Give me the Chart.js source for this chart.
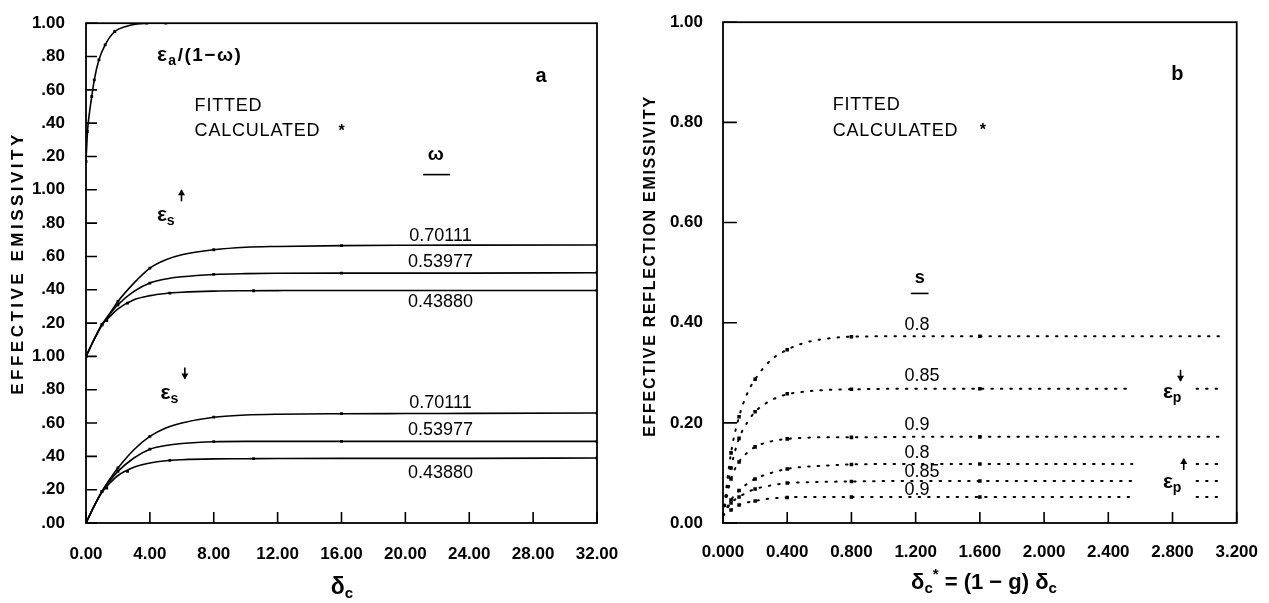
<!DOCTYPE html>
<html>
<head>
<meta charset="utf-8">
<script src="https://cdn.jsdelivr.net/npm/chart.js@4/dist/chart.umd.min.js"></script>
<style>
  body { margin: 0; background: #fff; }
  #wrap { position: relative; width: 1269px; height: 603px; }
  canvas { position: absolute; top: 0; }
  #chartA { left: 0; }
  #chartB { left: 634px; }
</style>
</head>
<body>
<div id="wrap">
  <canvas id="chartA" width="634" height="603"></canvas>
  <canvas id="chartB" width="635" height="603"></canvas>
</div>
<script>
const FONT = '"Liberation Sans", Arial, Helvetica, sans-serif';

// ---------- panel a ----------
const xTicksA = ['0.00', '4.00', '8.00', '12.00', '16.00', '20.00', '24.00', '28.00', '32.00'];
const yTicksA = ['.00', '.20', '.40', '.60', '.80', '1.00', '.20', '.40', '.60', '.80', '1.00', '.20', '.40', '.60', '.80', '1.00'];
const omegaLabels = ['0.70111', '0.53977', '0.43880'];

// eps_a / (1 - omega), top band
const absDelta = [0, 0.1, 0.2, 0.36, 0.52, 0.81, 1.2, 1.8, 2.5, 3.2, 4, 6, 8, 16, 32];
const absFit = [0.17, 0.36, 0.45, 0.56, 0.66, 0.78, 0.87, 0.95, 0.98, 0.995, 1, 1, 1, 1, 1];
const absCalcDelta = [0, 0.08, 0.36, 0.52, 0.81, 1.2, 1.8, 3.8, 5.0];
const absCalc = [0.17, 0.35, 0.56, 0.66, 0.78, 0.87, 0.95, 1.0, 1.0];

// eps_s up (middle band) and down (bottom band), one list per omega
const deltaA = [0, 0.5, 1, 1.5, 2, 3, 4, 5, 6, 8, 10, 12, 16, 20, 24, 32];
const upFit = [
  [0, 0.10, 0.19, 0.26, 0.33, 0.44, 0.53, 0.58, 0.61, 0.64, 0.655, 0.66, 0.665, 0.667, 0.668, 0.669],
  [0, 0.10, 0.19, 0.255, 0.31, 0.39, 0.44, 0.465, 0.478, 0.492, 0.497, 0.499, 0.50, 0.50, 0.50, 0.502],
  [0, 0.10, 0.19, 0.24, 0.285, 0.34, 0.365, 0.378, 0.385, 0.392, 0.394, 0.395, 0.396, 0.396, 0.396, 0.396]
];
const downFit = [
  [0, 0.10, 0.19, 0.265, 0.33, 0.44, 0.52, 0.57, 0.60, 0.635, 0.648, 0.653, 0.656, 0.657, 0.658, 0.66],
  [0, 0.10, 0.19, 0.255, 0.31, 0.39, 0.443, 0.465, 0.477, 0.488, 0.49, 0.49, 0.49, 0.49, 0.49, 0.49],
  [0, 0.10, 0.185, 0.24, 0.285, 0.335, 0.36, 0.374, 0.38, 0.385, 0.386, 0.387, 0.388, 0.388, 0.388, 0.39]
];
const calcDeltaA = [
  [0, 1, 2, 4, 8, 16, 32],
  [0, 1, 2, 4, 8, 16, 32],
  [0, 1.3, 2.6, 5.25, 10.5, 32]
];
const upCalc = [
  [0, 0.19, 0.33, 0.53, 0.64, 0.665, 0.669],
  [0, 0.19, 0.31, 0.44, 0.492, 0.50, 0.502],
  [0, 0.215, 0.32, 0.38, 0.394, 0.396]
];
const downCalc = [
  [0, 0.19, 0.33, 0.52, 0.635, 0.656, 0.66],
  [0, 0.19, 0.31, 0.443, 0.488, 0.49, 0.49],
  [0, 0.21, 0.31, 0.376, 0.386, 0.39]
];

// ---------- panel b ----------
const xTicksB = ['0.000', '0.400', '0.800', '1.200', '1.600', '2.000', '2.400', '2.800', '3.200'];
const yTicksB = ['0.00', '0.20', '0.40', '0.60', '0.80', '1.00'];
const sLabels = ['0.8', '0.85', '0.9'];

const deltaB = [0, 0.05, 0.1, 0.15, 0.2, 0.3, 0.4, 0.5, 0.6, 0.8, 1.2, 1.6, 2.0, 2.55, 2.75, 2.95, 3.1];
const pDownFit = [
  [0.015, 0.14, 0.212, 0.258, 0.287, 0.326, 0.346, 0.359, 0.366, 0.372, 0.373, 0.373, 0.373, 0.373, 0.373, 0.373, 0.373],
  [0.015, 0.11, 0.169, 0.2, 0.222, 0.245, 0.257, 0.262, 0.265, 0.267, 0.268, 0.268, 0.268, 0.268, null, 0.268, 0.268],
  [0.015, 0.088, 0.122, 0.14, 0.152, 0.163, 0.168, 0.17, 0.171, 0.171, 0.172, 0.172, 0.172, 0.172, 0.172, 0.172, 0.172]
];
const pUpFit = [
  [0.015, 0.046, 0.065, 0.078, 0.088, 0.1, 0.108, 0.112, 0.114, 0.117, 0.118, 0.118, 0.118, 0.118, null, 0.118, 0.118],
  [0.015, 0.04, 0.052, 0.061, 0.068, 0.075, 0.08, 0.081, 0.082, 0.083, 0.084, 0.084, 0.084, 0.084, null, 0.084, 0.084],
  [0.015, 0.026, 0.036, 0.041, 0.044, 0.049, 0.051, 0.052, 0.052, 0.052, 0.052, 0.052, 0.052, 0.052, null, 0.052, 0.052]
];
const calcDeltaB = [0.05, 0.1, 0.2, 0.4, 0.8, 1.6];
const pDownCalc = [
  [0.14, 0.212, 0.287, 0.346, 0.372, 0.373],
  [0.11, 0.169, 0.222, 0.258, 0.267, 0.268],
  [0.088, 0.122, 0.152, 0.168, 0.171, 0.172]
];
const pUpCalc = [
  [0.046, 0.065, 0.088, 0.108, 0.117, 0.118],
  [0.04, 0.052, 0.068, 0.08, 0.083, 0.084],
  [0.026, 0.036, 0.044, 0.051, 0.052, 0.052]
];

// ---------- helpers ----------
function pts(xs, ys, off) {
  return xs.map((x, i) => ({ x: x, y: ys[i] == null ? null : ys[i] + off }));
}

function fitLine(xs, ys, off, dotted) {
  return {
    data: pts(xs, ys, off),
    showLine: true,
    borderColor: '#000',
    borderWidth: dotted ? 2 : 1.6,
    borderDash: dotted ? [1.5, 8] : [],
    borderCapStyle: 'round',
    cubicInterpolationMode: 'monotone',
    spanGaps: false,
    pointRadius: 0
  };
}

function calcPoints(xs, ys, off, r) {
  return {
    data: pts(xs, ys, off),
    showLine: false,
    pointStyle: 'rect',
    pointRadius: r,
    backgroundColor: '#000',
    borderColor: '#000',
    borderWidth: 0
  };
}

// text made of pieces: [text, font, dy]
function rich(ctx, x, y, parts, align) {
  let w = 0;
  parts.forEach(p => { ctx.font = p[1]; w += ctx.measureText(p[0]).width; });
  let cx = align === 'center' ? x - w / 2 : x;
  ctx.textAlign = 'left';
  ctx.textBaseline = 'middle';
  parts.forEach(p => {
    ctx.font = p[1];
    ctx.fillText(p[0], cx, y + (p[2] || 0));
    cx += ctx.measureText(p[0]).width;
  });
}

// small arrow, dir = -1 up, +1 down
function arrow(ctx, x, y, dir) {
  ctx.save();
  ctx.strokeStyle = '#000';
  ctx.fillStyle = '#000';
  ctx.lineWidth = 1.6;
  ctx.beginPath();
  ctx.moveTo(x, y - 6 * dir);
  ctx.lineTo(x, y + 5 * dir);
  ctx.stroke();
  ctx.beginPath();
  ctx.moveTo(x, y + 6 * dir);
  ctx.lineTo(x - 3.5, y);
  ctx.lineTo(x + 3.5, y);
  ctx.closePath();
  ctx.fill();
  ctx.restore();
}

function frame(chart, tickX, tickY) {
  const { ctx, chartArea: a, scales: { x, y } } = chart;
  ctx.save();
  ctx.strokeStyle = '#000';
  ctx.lineWidth = 1.6;
  ctx.beginPath();
  y.ticks.forEach(t => {
    const py = y.getPixelForValue(t.value);
    ctx.moveTo(a.left, py); ctx.lineTo(a.left + tickY, py);
  });
  x.ticks.forEach(t => {
    const px = x.getPixelForValue(t.value);
    ctx.moveTo(px, a.bottom); ctx.lineTo(px, a.bottom - tickX);
  });
  ctx.stroke();
  ctx.lineWidth = 1.8;
  ctx.strokeRect(a.left, a.top, a.width, a.height);
  ctx.restore();
}

function axisTitleY(ctx, text, x, y, size, spacing) {
  ctx.save();
  ctx.translate(x, y);
  ctx.rotate(-Math.PI / 2);
  ctx.font = 'bold ' + size + 'px ' + FONT;
  ctx.letterSpacing = spacing + 'px';
  ctx.textAlign = 'center';
  ctx.textBaseline = 'middle';
  ctx.fillStyle = '#000';
  ctx.fillText(text, 0, 0);
  ctx.restore();
}

function scalesFor(xMax, xStep, xLabels, yMax, yStep, yLabels, yWidth, padX, padY) {
  const tickFont = { family: FONT, size: 17, weight: 'bold' };
  return {
    x: {
      type: 'linear', min: 0, max: xMax,
      grid: { display: false }, border: { display: false },
      ticks: { stepSize: xStep, autoSkip: false, maxRotation: 0, color: '#000', font: tickFont, padding: padX,
               callback: (v, i) => xLabels[i] },
      afterFit: s => { s.height = 80; }
    },
    y: {
      type: 'linear', min: 0, max: yMax,
      grid: { display: false }, border: { display: false },
      ticks: { stepSize: yStep, autoSkip: false, color: '#000', font: tickFont, padding: padY,
               callback: (v, i) => yLabels[i] },
      afterFit: s => { s.width = yWidth; }
    }
  };
}

const common = {
  responsive: false,
  animation: false,
  devicePixelRatio: 1,
  plugins: { legend: { display: false }, tooltip: { enabled: false } }
};

// ---------- chart a ----------
const dsA = [fitLine(absDelta, absFit, 2, false), calcPoints(absCalcDelta, absCalc, 2, 2)];
for (let k = 0; k < 3; k++) {
  dsA.push(fitLine(deltaA, upFit[k], 1, false));
  dsA.push(calcPoints(calcDeltaA[k], upCalc[k], 1, 2));
  dsA.push(fitLine(deltaA, downFit[k], 0, false));
  dsA.push(calcPoints(calcDeltaA[k], downCalc[k], 0, 2));
}

const decorA = {
  id: 'decorA',
  afterDraw(chart) {
    frame(chart, 11, 11);
    const { ctx, scales: { x, y } } = chart;
    const X = v => x.getPixelForValue(v), Y = v => y.getPixelForValue(v);
    const big = 'bold 21px ' + FONT, sub = 'bold 14px ' + FONT, txt = '18px ' + FONT;
    ctx.save();
    ctx.fillStyle = '#000';
    ctx.letterSpacing = '1.5px';
    rich(ctx, X(4.44), Y(2.807), [['ε', big], ['a', sub, 6], ['/(1−ω)', 'bold 19px ' + FONT]]);
    ctx.letterSpacing = '0.8px';
    rich(ctx, X(6.8), Y(2.50), [['FITTED', txt]]);
    rich(ctx, X(6.8), Y(2.35), [['CALCULATED', txt]]);
    ctx.letterSpacing = '0px';
    rich(ctx, X(16), Y(2.35), [['*', 'bold 16px ' + FONT]], 'center');
    rich(ctx, X(28.5), Y(2.68), [['a', 'bold 20px ' + FONT]], 'center');
    rich(ctx, X(21.9), Y(2.21), [['ω', 'bold 19px ' + FONT]], 'center');
    ctx.fillRect(X(21.1), Y(2.096), X(22.8) - X(21.1), 1.6);
    rich(ctx, X(4.44), Y(1.85), [['ε', big], ['s', sub, 6]]);
    arrow(ctx, X(5.98), Y(1.967), -1);
    rich(ctx, X(4.67), Y(0.781), [['ε', big], ['s', sub, 6]]);
    arrow(ctx, X(6.19), Y(0.898), 1);
    const labY = [[1.720, 1.564, 1.325], [0.722, 0.556, 0.301]];
    labY.forEach(row => row.forEach((v, i) => rich(ctx, X(22.2), Y(v), [[omegaLabels[i], txt]], 'center')));
    rich(ctx, 342, 588, [['δ', 'bold 23px ' + FONT], ['c', 'bold 15px ' + FONT, 6]], 'center');
    ctx.restore();
    axisTitleY(ctx, 'EFFECTIVE EMISSIVITY', 18, 263, 17, 3.5);
  }
};

new Chart(document.getElementById('chartA'), {
  type: 'scatter',
  data: { datasets: dsA },
  options: Object.assign({}, common, {
    layout: { padding: { left: 0, right: 37, top: 12, bottom: 0 } },
    scales: scalesFor(32, 4, xTicksA, 3, 0.2, yTicksA, 86, 13, 13)
  }),
  plugins: [decorA]
});

// ---------- chart b ----------
const dsB = [];
for (let k = 0; k < 3; k++) {
  dsB.push(fitLine(deltaB, pDownFit[k], 0, true));
  dsB.push(calcPoints(calcDeltaB, pDownCalc[k], 0, 2.5));
  dsB.push(fitLine(deltaB, pUpFit[k], 0, true));
  dsB.push(calcPoints(calcDeltaB, pUpCalc[k], 0, 2.5));
}

const decorB = {
  id: 'decorB',
  afterDraw(chart) {
    frame(chart, 11, 14);
    const { ctx, scales: { x, y } } = chart;
    const X = v => x.getPixelForValue(v), Y = v => y.getPixelForValue(v);
    const big = 'bold 21px ' + FONT, sub = 'bold 14px ' + FONT, txt = '18px ' + FONT;
    ctx.save();
    ctx.fillStyle = '#000';
    ctx.letterSpacing = '0.8px';
    rich(ctx, X(0.683), Y(0.834), [['FITTED', txt]]);
    rich(ctx, X(0.683), Y(0.783), [['CALCULATED', txt]]);
    ctx.letterSpacing = '0px';
    rich(ctx, X(1.618), Y(0.783), [['*', 'bold 16px ' + FONT]], 'center');
    rich(ctx, X(2.83), Y(0.895), [['b', 'bold 20px ' + FONT]], 'center');
    rich(ctx, X(1.225), Y(0.49), [['s', 'bold 18px ' + FONT]], 'center');
    ctx.fillRect(X(1.17), Y(0.46), X(1.28) - X(1.17), 1.6);
    const labY = [0.395, 0.294, 0.196, 0.140, 0.101, 0.0666];
    labY.forEach((v, i) => rich(ctx, X(1.13), Y(v), [[sLabels[i % 3], txt]]));
    rich(ctx, X(2.74), Y(0.261), [['ε', big], ['p', sub, 6]]);
    arrow(ctx, X(2.85), Y(0.294), 1);
    rich(ctx, X(2.74), Y(0.081), [['ε', big], ['p', sub, 6]]);
    arrow(ctx, X(2.87), Y(0.118), -1);
    const bf = 'bold 22px ' + FONT, sf = 'bold 15px ' + FONT;
    rich(ctx, 350, 583, [['δ', bf], ['c', sf, 6], ['*', sf, -8], [' = (1 − g) ', bf], ['δ', bf], ['c', sf, 6]], 'center');
    ctx.restore();
    axisTitleY(ctx, 'EFFECTIVE REFLECTION EMISSIVITY', 17, 266, 16, 1.7);
  }
};

new Chart(document.getElementById('chartB'), {
  type: 'scatter',
  data: { datasets: dsB },
  options: Object.assign({}, common, {
    layout: { padding: { left: 0, right: 32, top: 12, bottom: 0 } },
    scales: scalesFor(3.2, 0.4, xTicksB, 1, 0.2, yTicksB, 89, 11, 12)
  }),
  plugins: [decorB]
});
</script>
</body>
</html>
